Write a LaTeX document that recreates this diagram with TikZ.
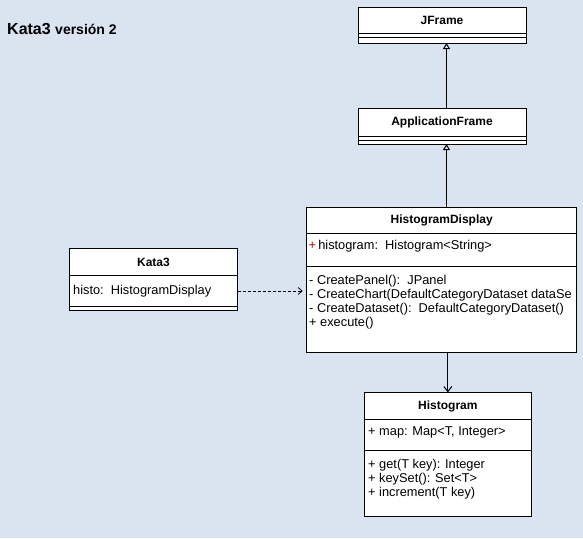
\documentclass[tikz,border=0pt]{standalone}
\usepackage{fontspec}
\setmainfont{Liberation Sans}
\usetikzlibrary{arrows.meta}
\definecolor{fondo}{RGB}{218,227,240}
\definecolor{plusrojo}{RGB}{150,20,20}
\tikzset{
	clase/.style={draw=black, fill=white, line width=1pt, anchor=north west, inner sep=0pt, outer sep=0pt},
	titulo/.style={font=\fontsize{12}{14}\selectfont\bfseries, inner sep=0pt},
	miembro/.style={font=\fontsize{12.8}{14}\selectfont, anchor=north west, inner sep=0pt, align=left},
	hereda/.style={-{Triangle[open, length=6pt, width=7pt]}, line width=1pt},
	asocia/.style={-{Straight Barb[length=5pt, width=8pt]}, line width=1pt},
	usa/.style={-{Straight Barb[length=4pt, width=7pt]}, dash pattern=on 3pt off 2pt, line width=0.8pt}
}
\begin{document}
\begin{tikzpicture}[x=1pt, y=-1pt]
		% fondo
		\fill [fondo] ( 0, 0 ) rectangle ( 583, 538 );

		% titulo
		\node [anchor=base west, inner sep=0pt, font=\bfseries] (titulo) at ( 7, 34.3 ) {\fontsize{16}{16}\selectfont Kata3 \fontsize{14}{14}\selectfont versión 2};

		% clase JFrame
		\node [clase, minimum width=168pt, minimum height=36pt] (jframe) at ( 358, 7 ) {};
		\node [titulo] (jframe-t) at ( 442, 20 ) {JFrame};
		\draw [line width=1pt] ( 358, 33 ) -- ( 526, 33 );
		\draw [line width=1pt] ( 358, 37 ) -- ( 526, 37 );

		% clase ApplicationFrame
		\node [clase, minimum width=168pt, minimum height=36pt] (appframe) at ( 358, 108 ) {};
		\node [titulo] (appframe-t) at ( 442, 122 ) {ApplicationFrame};
		\draw [line width=1pt] ( 358, 136 ) -- ( 526, 136 );
		\draw [line width=1pt] ( 358, 140 ) -- ( 526, 140 );

		% clase HistogramDisplay
		\node [clase, minimum width=270pt, minimum height=145pt] (hdisplay) at ( 306.7, 207 ) {};
		\node [titulo] (hdisplay-t) at ( 441.7, 220 ) {HistogramDisplay};
		\draw [line width=1pt] ( 306.7, 233 ) -- ( 576.7, 233 );
		\node [miembro] (hdisplay-a) at ( 308.5, 240.5 ) {{\color{plusrojo}+}\,histogram:~~Histogram<String>};
		\draw [line width=1pt] ( 306.7, 266 ) -- ( 576.7, 266 );
		\node [miembro] (hdisplay-m) at ( 309, 275.5 ) {- CreatePanel():~~JPanel\\- CreateChart(DefaultCategoryDataset dataSe\\- CreateDataset():~~DefaultCategoryDataset()\\+ execute()};

		% clase Kata3
		\node [clase, minimum width=168.4pt, minimum height=62.2pt] (kata3) at ( 69.3, 248.5 ) {};
		\node [titulo] (kata3-t) at ( 153.5, 262 ) {Kata3};
		\draw [line width=1pt] ( 69.3, 275 ) -- ( 237.7, 275 );
		\node [miembro, anchor=west] (kata3-a) at ( 73, 291 ) {histo:~~HistogramDisplay};
		\draw [line width=1pt] ( 69.3, 306.7 ) -- ( 237.7, 306.7 );

		% clase Histogram
		\node [clase, minimum width=167.7pt, minimum height=124.4pt] (histogram) at ( 364, 392.3 ) {};
		\node [titulo] (histogram-t) at ( 447.9, 406 ) {Histogram};
		\draw [line width=1pt] ( 364, 419.5 ) -- ( 531.7, 419.5 );
		\node [miembro] (histogram-a) at ( 368, 426.5 ) {+ map: Map<T, Integer>};
		\draw [line width=1pt] ( 364, 450 ) -- ( 531.7, 450 );
		\node [miembro] (histogram-m) at ( 368, 459 ) {+ get(T key): Integer\\+ keySet(): Set<T>\\+ increment(T key)};

		% relaciones
		\draw [hereda] ([xshift=4.5pt]appframe.north) -- ([xshift=4.5pt]jframe.south);
		\draw [hereda] ([xshift=4.8pt]hdisplay.north) -- ([xshift=4.8pt]hdisplay.north |- appframe.south);
		\draw [asocia] (histogram.north |- hdisplay.south) -- (histogram.north);
		\draw [usa, shorten >=4pt] (kata3.east |- kata3-a) -- (hdisplay.west |- kata3-a);
	\end{tikzpicture}
\end{document}
